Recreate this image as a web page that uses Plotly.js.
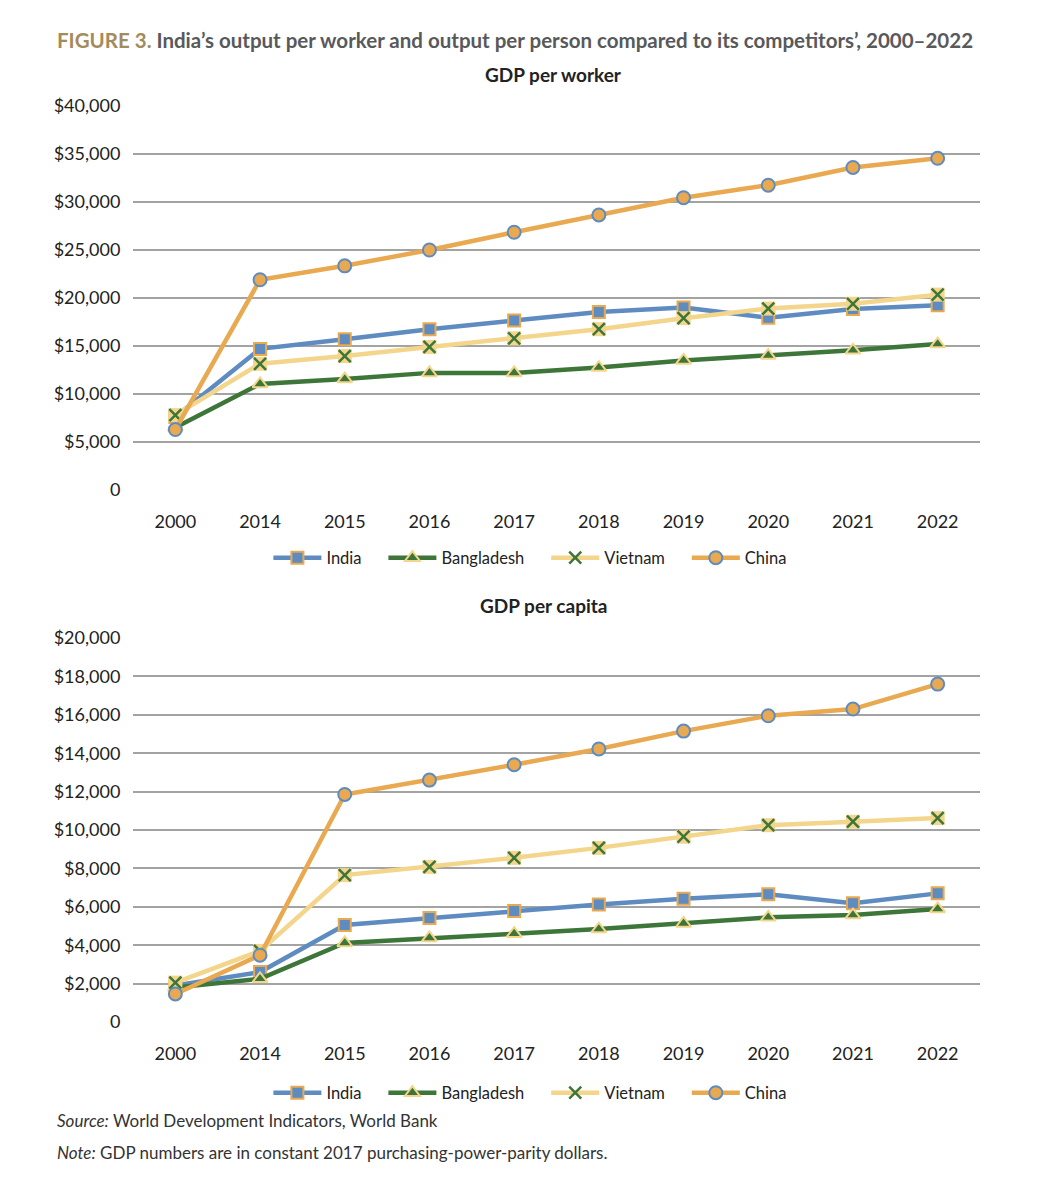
<!DOCTYPE html>
<html>
<head>
<meta charset="utf-8">
<script src="https://cdn.plot.ly/plotly-3.0.1.min.js"></script>
<style>
html,body{margin:0;padding:0;background:#fff;}
#chart{width:1040px;height:1190px;}
</style>
</head>
<body>
<div id="chart"></div>
<script>
const years = ["2000","2014","2015","2016","2017","2018","2019","2020","2021","2022"];

// GDP per worker (constant 2017 PPP $)
const workerIndia      = [7600, 14700, 15700, 16750, 17650, 18550, 19000, 17950, 18850, 19250];
const workerBangladesh = [6500, 11050, 11550, 12200, 12200, 12750, 13500, 14000, 14550, 15200];
const workerVietnam    = [7800, 13150, 13950, 14900, 15800, 16750, 17900, 18900, 19400, 20350];
const workerChina      = [6300, 21900, 23350, 25000, 26850, 28650, 30450, 31750, 33600, 34550];

// GDP per capita (constant 2017 PPP $)
const capitaIndia      = [1900, 2600, 5050, 5420, 5780, 6120, 6420, 6650, 6180, 6700];
const capitaBangladesh = [1800, 2250, 4120, 4380, 4600, 4840, 5130, 5450, 5570, 5890];
const capitaVietnam    = [2050, 3700, 7650, 8080, 8550, 9070, 9650, 10250, 10430, 10620];
const capitaChina      = [1460, 3480, 11850, 12600, 13400, 14220, 15150, 15950, 16300, 17600];

const workerTickVals = [0,5000,10000,15000,20000,25000,30000,35000,40000];
const workerTickText = ["0","$5,000","$10,000","$15,000","$20,000","$25,000","$30,000","$35,000","$40,000"];
const capitaTickVals = [0,2000,4000,6000,8000,10000,12000,14000,16000,18000,20000];
const capitaTickText = ["0","$2,000","$4,000","$6,000","$8,000","$10,000","$12,000","$14,000","$16,000","$18,000","$20,000"];

const seriesNames = ["India","Bangladesh","Vietnam","China"];

const C = {
  blue:"#5E8CC0", green:"#3E7639", yellow:"#F3D68C", orange:"#E8A951"
};
const FONT = "Lato, 'Open Sans', sans-serif";
const PAD = "\u00a0\u00a0\u00a0\u00a0"; // spacing between legend entries
const legendName = (i) => i < seriesNames.length - 1 ? seriesNames[i] + PAD : seriesNames[i];

function makeTraces(data, xa, ya, legendId) {
  const [ind, ban, vie, chi] = data;
  return [
    {x: years, y: ind, name: legendName(0), type:"scatter", mode:"lines+markers",
     xaxis:xa, yaxis:ya, legend:legendId, cliponaxis:false,
     line:{color:C.blue, width:4.5},
     marker:{symbol:"square", size:12, color:C.blue, line:{color:C.orange, width:2}}},
    {x: years, y: ban, name: legendName(1), type:"scatter", mode:"lines+markers",
     xaxis:xa, yaxis:ya, legend:legendId, cliponaxis:false,
     line:{color:C.green, width:4.5},
     marker:{symbol:"triangle-up", size:13, color:C.green, line:{color:C.yellow, width:2}}},
    {x: years, y: vie, name: seriesNames[2], type:"scatter", mode:"markers",
     xaxis:xa, yaxis:ya, showlegend:false, hoverinfo:"skip", cliponaxis:false,
     marker:{symbol:"square", size:14, color:C.yellow, line:{width:0}}},
    {x: years, y: vie, name: legendName(2), type:"scatter", mode:"lines+markers",
     xaxis:xa, yaxis:ya, legend:legendId, cliponaxis:false,
     line:{color:C.yellow, width:4.5},
     marker:{symbol:"x-thin-open", size:12, color:C.green, line:{color:C.green, width:2.5}}},
    {x: years, y: chi, name: legendName(3), type:"scatter", mode:"lines+markers",
     xaxis:xa, yaxis:ya, legend:legendId, cliponaxis:false,
     line:{color:C.orange, width:4.5},
     marker:{symbol:"circle", size:13, color:C.orange, line:{color:C.blue, width:2}}}
  ];
}

const traces = [
  ...makeTraces([workerIndia, workerBangladesh, workerVietnam, workerChina], "x", "y", "legend"),
  ...makeTraces([capitaIndia, capitaBangladesh, capitaVietnam, capitaChina], "x2", "y2", "legend2")
];

const H = 1190, W = 1040;
const py = v => 1 - v / H;
const px = v => v / W;

const xCommon = {
  type:"category", range:[-0.5, 9.5], showgrid:false, zeroline:false, showline:false,
  ticks:"outside", ticklen:15, tickcolor:"rgba(0,0,0,0)",
  tickfont:{family:FONT, size:18, color:"#222"}, fixedrange:true
};
const yCommon = {
  showgrid:true, gridcolor:"#A3A3A3", gridwidth:2, zeroline:false, showline:false,
  ticks:"outside", ticklen:8, tickcolor:"rgba(0,0,0,0)",
  tickfont:{family:FONT, size:18, color:"#222"}, fixedrange:true
};
const legendCommon = {
  orientation:"h", xanchor:"center", yanchor:"middle", x:0.51,
  font:{family:FONT, size:16.5, color:"#222"}, itemwidth:48, bgcolor:"rgba(0,0,0,0)",
  traceorder:"normal"
};

const layout = {
  width:W, height:H,
  margin:{l:0, r:0, t:0, b:0},
  paper_bgcolor:"#fff", plot_bgcolor:"#fff",
  showlegend:true,
  xaxis: Object.assign({}, xCommon, {domain:[px(133), px(980)], anchor:"y"}),
  yaxis: Object.assign({}, yCommon, {domain:[py(490), py(106)], range:[0,40000], anchor:"x",
          tickvals:workerTickVals, ticktext:workerTickText}),
  xaxis2: Object.assign({}, xCommon, {domain:[px(133), px(980)], anchor:"y2"}),
  yaxis2: Object.assign({}, yCommon, {domain:[py(1022), py(638)], range:[0,20000], anchor:"x2",
          tickvals:capitaTickVals, ticktext:capitaTickText}),
  legend: Object.assign({}, legendCommon, {y:py(558)}),
  legend2: Object.assign({}, legendCommon, {y:py(1093)}),
  annotations:[
    {xref:"paper", yref:"paper", x:px(55), y:py(40), xanchor:"left", yanchor:"middle", showarrow:false,
     text:"<b><span style='color:#A48B5C'>FIGURE 3.</span> India’s output per worker and output per person compared to its competitors’, 2000–2022</b>",
     font:{family:FONT, size:20.5, color:"#58595B"}},
    {xref:"paper", yref:"paper", x:px(553), y:py(74), xanchor:"center", yanchor:"middle", showarrow:false,
     text:"<b>GDP per worker</b>", font:{family:FONT, size:19, color:"#222"}},
    {xref:"paper", yref:"paper", x:px(543), y:py(605), xanchor:"center", yanchor:"middle", showarrow:false,
     text:"<b>GDP per capita</b>", font:{family:FONT, size:19, color:"#222"}},
    {xref:"paper", yref:"paper", x:px(55), y:py(1120), xanchor:"left", yanchor:"middle", showarrow:false,
     text:"<i>Source:</i> World Development Indicators, World Bank", font:{family:FONT, size:17, color:"#333"}},
    {xref:"paper", yref:"paper", x:px(55), y:py(1152), xanchor:"left", yanchor:"middle", showarrow:false,
     text:"<i>Note:</i> GDP numbers are in constant 2017 purchasing-power-parity dollars.", font:{family:FONT, size:17, color:"#333"}}
  ]
};

Plotly.newPlot("chart", traces, layout, {displayModeBar:false, staticPlot:true});
</script>
</body>
</html>
